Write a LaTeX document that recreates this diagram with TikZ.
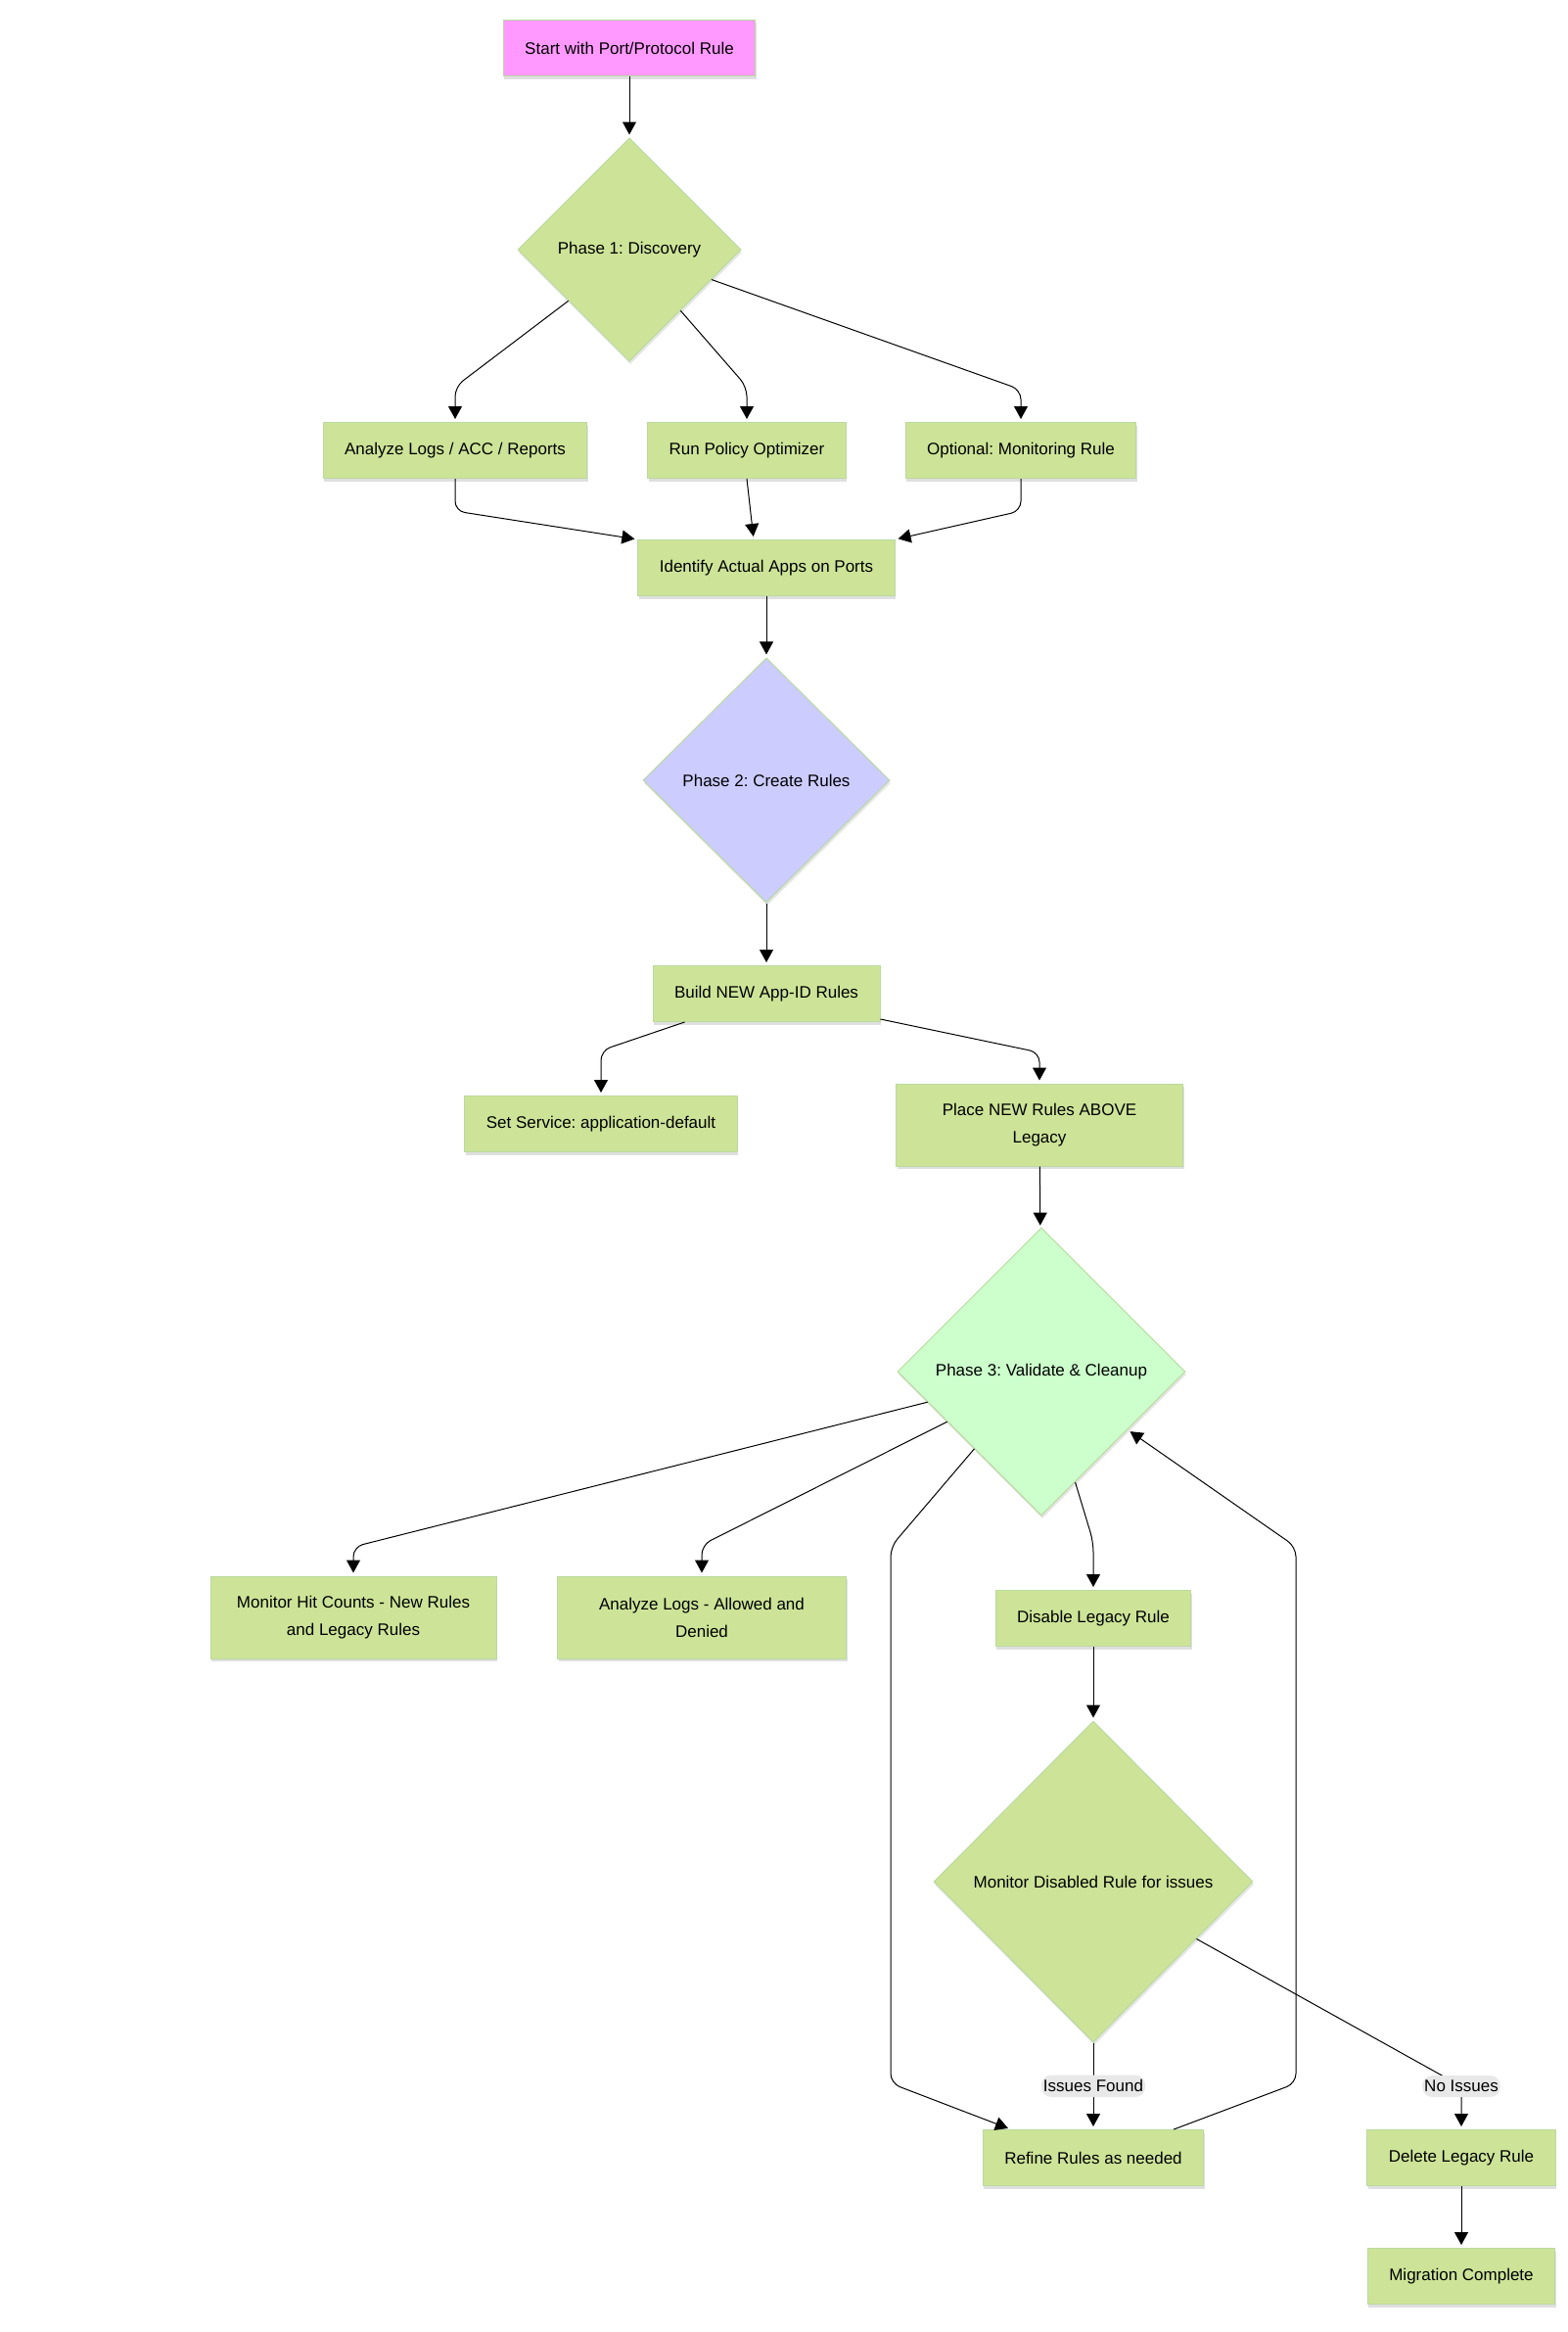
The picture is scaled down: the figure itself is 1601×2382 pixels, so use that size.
\documentclass[tikz,border=0pt]{standalone}
\usepackage{fontspec}
\setmainfont{Liberation Sans}
\usepackage{xcolor}
\usepackage{tikz}
\usetikzlibrary{
  arrows,
  arrows.meta,
  positioning,
  shapes.geometric,
  shadows,
  calc}
\frenchspacing
\definecolor{stepgreen}{HTML}{CDE498}
\definecolor{startpink}{HTML}{FF99FF}
\definecolor{phaseblue}{HTML}{CCCCFF}
\definecolor{phasemint}{HTML}{CCFFCC}
\definecolor{rimgreen}{HTML}{B9DA9F}
\definecolor{lblgray}{HTML}{E8E8E8}
\tikzset{every picture/.style={font issue=\fontsize{17}{28}\selectfont},
         font issue/.style={execute at begin picture={#1}},
         stepbox/.style={draw=rimgreen, fill=stepgreen, line width=1pt, inner xsep=22pt,
           minimum height=57pt, align=center,
           drop shadow={shadow xshift=1pt, shadow yshift=-3pt, opacity=.25, fill=gray}},
         phase/.style={diamond, draw=rimgreen, fill=stepgreen, line width=1pt, inner sep=0pt,
           drop shadow={shadow xshift=1pt, shadow yshift=-3pt, opacity=.2, fill=gray}},
         flow/.style={-{Triangle[length=13pt,width=14pt]}, line width=1pt, rounded corners=10pt, shorten >=3pt},
         lbl/.style={fill=lblgray, inner xsep=2pt, inner ysep=5pt}
        }
\begin{document}
\begin{tikzpicture}[x=1pt,y=-1pt]
\useasboundingbox (0,0) rectangle (1601,2382);
\node[stepbox, fill=startpink] at (643,49)(start){Start with Port/Protocol Rule};
\node[phase, minimum width=228pt, minimum height=228pt] at (643,255)(pone){Phase 1: Discovery};
\node[stepbox] at (465,460)(anl){Analyze Logs / ACC / Reports};
\node[stepbox] at (763,460)(run){Run Policy Optimizer};
\node[stepbox] at (1043,460)(opt){Optional: Monitoring Rule};
\node[stepbox] at (783,580)(ident){Identify Actual Apps on Ports};
\node[phase, fill=phaseblue, minimum width=252pt, minimum height=250pt] at (783,797)(ptwo){Phase 2: Create Rules};
\node[stepbox] at (783,1015)(build){Build NEW App-ID Rules};
\node[stepbox] at (614,1148)(serv){Set Service: application-default};
\node[stepbox, minimum width=293pt, minimum height=84pt] at (1062,1149)(place){Place NEW Rules ABOVE\\Legacy};
\node[phase, fill=phasemint, minimum width=294pt, minimum height=294pt] at (1064,1401)(pthree){Phase 3: Validate \& Cleanup};
\node[stepbox, minimum width=292pt, minimum height=84pt] at (361,1652)(hits){Monitor Hit Counts - New Rules\\and Legacy Rules};
\node[stepbox, minimum width=295pt, minimum height=84pt] at (717,1652)(logs){Analyze Logs - Allowed and\\Denied};
\node[stepbox] at (1117,1653)(dis){Disable Legacy Rule};
\node[phase, minimum width=326pt, minimum height=328pt] at (1117,1922)(mdis){Monitor Disabled Rule for issues};
\node[stepbox] at (1117,2204)(refine){Refine Rules as needed};
\node[stepbox] at (1493,2204)(del){Delete Legacy Rule};
\node[stepbox] at (1493,2325)(done){Migration Complete};
\draw[flow] (start) -- (pone);
\draw[flow] (pone.220) -- (465,395) -- (anl.north);
\draw[flow] (pone.310) -- (763,395) -- (run.north);
\draw[flow] (pone.340) -- (1043,398) -- (opt.north);
\draw[flow] (anl.south) -- (465,522) -- (ident.north west);
\draw[flow] (run.south) -- ([xshift=-13pt]ident.north);
\draw[flow] (opt.south) -- (1043,522) -- (ident.north east);
\draw[flow] (ident) -- (ptwo);
\draw[flow] (ptwo) -- (build);
\draw[flow] ([xshift=33pt]build.south west) -- (614,1073) -- (serv.north);
\draw[flow] ([yshift=3pt]build.south east) -- (1062,1075) -- (place.north);
\draw[flow] (place) -- (pthree);
\draw[flow] (pthree.195) -- (361,1580) -- (hits.north);
\draw[flow] (pthree.208) -- (717,1578) -- (logs.north);
\draw[flow] (pthree.229) -- (910,1580) -- (910,2128) -- ([xshift=29pt]refine.north west);
\draw[flow] (pthree.287) -- (1117,1575) -- (dis.north);
\draw[flow] (dis) -- (mdis);
\draw[flow] (mdis) -- node[lbl]{Issues Found} (refine);
\draw[flow] (mdis.331) -- (1493,2131) node[lbl]{No Issues} -- (del.north);
\draw[flow] ([xshift=-31pt]refine.north east) -- (1324,2128) -- (1324,1580) -- (pthree.326);
\draw[flow] (del) -- (done);
\end{tikzpicture}
\end{document}
